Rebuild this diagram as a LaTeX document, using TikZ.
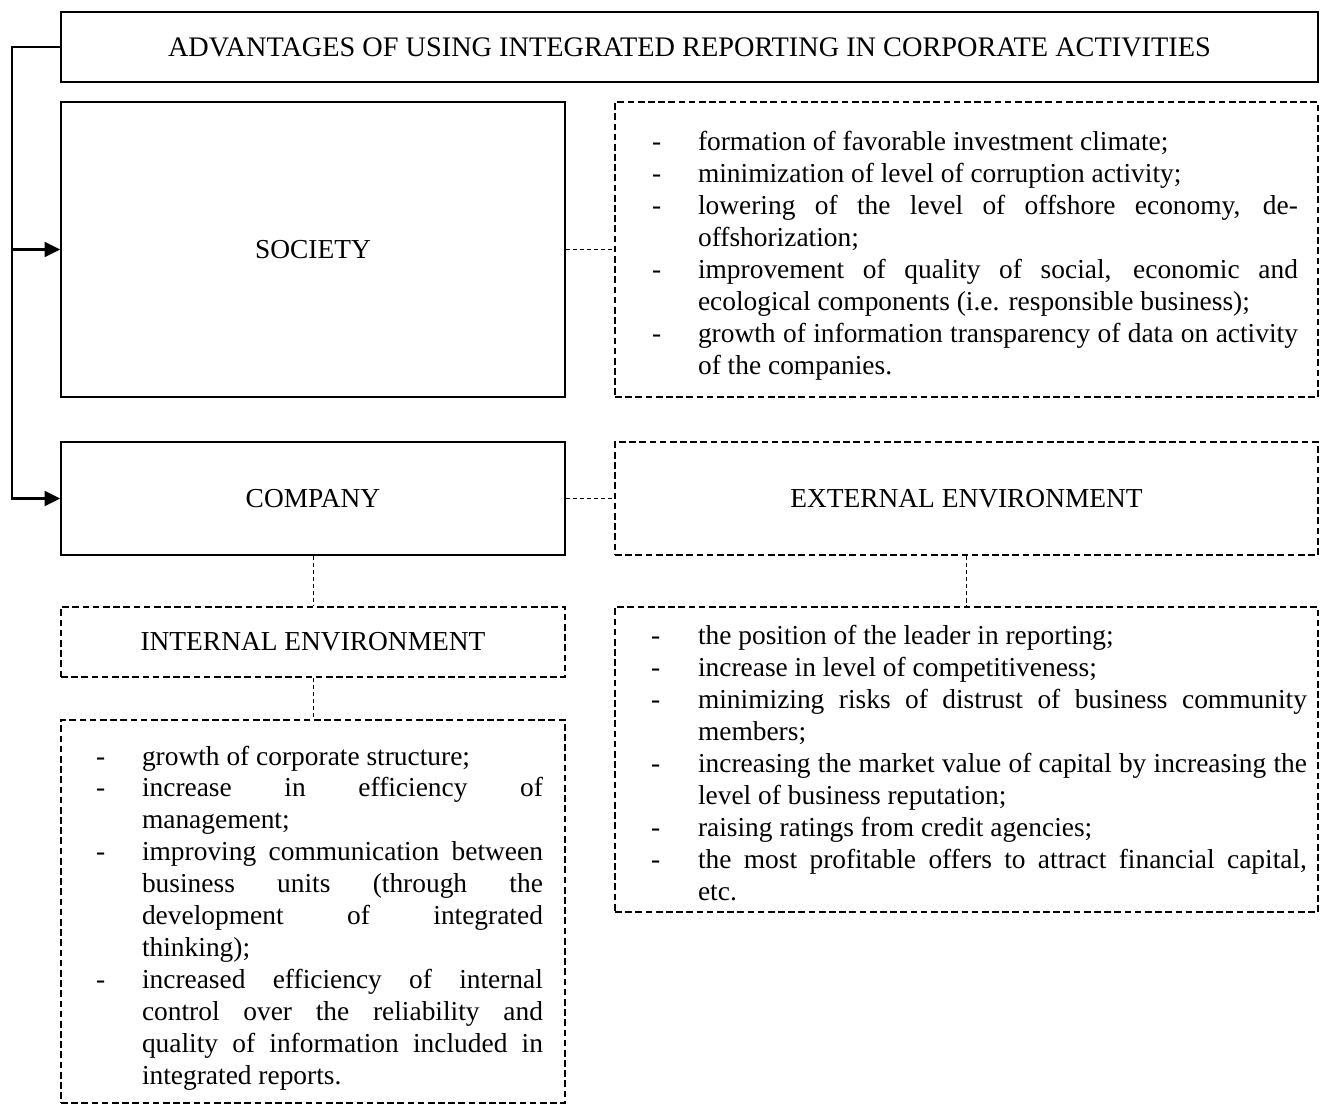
\documentclass[tikz,border=0pt]{standalone}
\usepackage{fontspec}
\setmainfont{Liberation Serif}
\usepackage{array}
\usetikzlibrary{arrows.meta, positioning}
\newcommand{\jl}[1]{\makebox[\linewidth][s]{#1}}
\newcommand{\sinkdown}[1]{\raisebox{-0.14cm}[\height][\depth]{#1}}
\tikzset{
  txtfont/.style={font=\fontsize{15.6}{18.2}\selectfont},
  solidbox/.style={draw=black, line width=1.1pt, inner sep=0pt, align=center, txtfont},
  dashbox/.style={draw=black, line width=1.3pt, dash pattern=on 3.8pt off 2pt,
                  inner sep=0pt, align=center, txtfont},
  listbox/.style={dashbox, align=left},
  linkarr/.style={-{Triangle[length=3.1mm, width=3mm]}, line width=1.2pt},
  dashlink/.style={line width=0.5pt, dash pattern=on 2.4pt off 1.6pt},
}

\begin{document}
\begin{tikzpicture}[x=0.02cm, y=-0.02cm]
  \useasboundingbox (0,0) rectangle (1320,1106);

  \node[solidbox, minimum width=25.14cm, minimum height=1.4cm,
        font=\fontsize{16.1}{18.2}\selectfont] (title) at (689.5,47)
    {ADVANTAGES OF USING INTEGRATED REPORTING IN CORPORATE ACTIVITIES};

  \node[solidbox, minimum width=10.08cm, minimum height=5.9cm] (society) at (313,249.5) {SOCIETY};
  \node[listbox, minimum width=14.06cm, minimum height=5.9cm] (socpoints) at (966.5,249.5) {\sinkdown{%
    \begin{tabular}{@{\hspace{0.74cm}}p{0.92cm}@{}p{12cm}@{\hspace{0.40cm}}}
      - & formation of favorable investment climate;\\
      - & minimization of level of corruption activity;\\
      - & \jl{lowering of the level of offshore economy, de-}\\
        & offshorization;\\
      - & \jl{improvement of quality of social, economic and}\\
        & ecological components (i.e. responsible business);\\
      - & \jl{growth of information transparency of data on activity}\\
        & of the companies.
    \end{tabular}}};

  \node[solidbox, minimum width=10.08cm, minimum height=2.26cm] (company) at (313,498.5) {COMPANY};
  \node[dashbox, minimum width=14.06cm, minimum height=2.26cm] (extenv) at (966.5,498.5) {EXTERNAL ENVIRONMENT};

  \node[dashbox, minimum width=10.08cm, minimum height=1.4cm] (intenv) at (313,642) {INTERNAL ENVIRONMENT};

  \node[listbox, minimum width=10.08cm, minimum height=7.66cm] (intpoints) at (313,911.5) {\sinkdown{%
    \begin{tabular}{@{\hspace{0.70cm}}p{0.92cm}@{}p{8.02cm}@{\hspace{0.44cm}}}
      - & growth of corporate structure;\\
      - & \jl{increase in efficiency of}\\
        & management;\\
      - & \jl{improving communication between}\\
        & \jl{business units (through the}\\
        & \jl{development of integrated}\\
        & thinking);\\
      - & \jl{increased efficiency of internal}\\
        & \jl{control over the reliability and}\\
        & \jl{quality of information included in}\\
        & integrated reports.
    \end{tabular}}};

  \node[listbox, minimum width=14.06cm, minimum height=6.1cm] (extpoints) at (966.5,759.5) {\sinkdown{%
    \begin{tabular}{@{\hspace{0.72cm}}p{0.94cm}@{}p{12.18cm}@{\hspace{0.22cm}}}
      - & the position of the leader in reporting;\\
      - & increase in level of competitiveness;\\
      - & \jl{minimizing risks of distrust of business community}\\
        & members;\\
      - & \jl{increasing the market value of capital by increasing the}\\
        & level of business reputation;\\
      - & raising ratings from credit agencies;\\
      - & \jl{the most profitable offers to attract financial capital,}\\
        & etc.
    \end{tabular}}};

  % left feed line
  \coordinate (bend) at (12,47);
  \draw[linkarr] (title.west) -- (bend) |- (company.west);
  \draw[linkarr] (bend |- society.west) -- (society.west);

  % dashed links
  \draw[dashlink] (society.east) -- (socpoints.west);
  \draw[dashlink] (company.east) -- (extenv.west);
  \draw[dashlink] (company.south) -- (intenv.north);
  \draw[dashlink] (intenv.south) -- (intpoints.north);
  \draw[dashlink] (extenv.south) -- (extpoints.north);
\end{tikzpicture}
\end{document}
